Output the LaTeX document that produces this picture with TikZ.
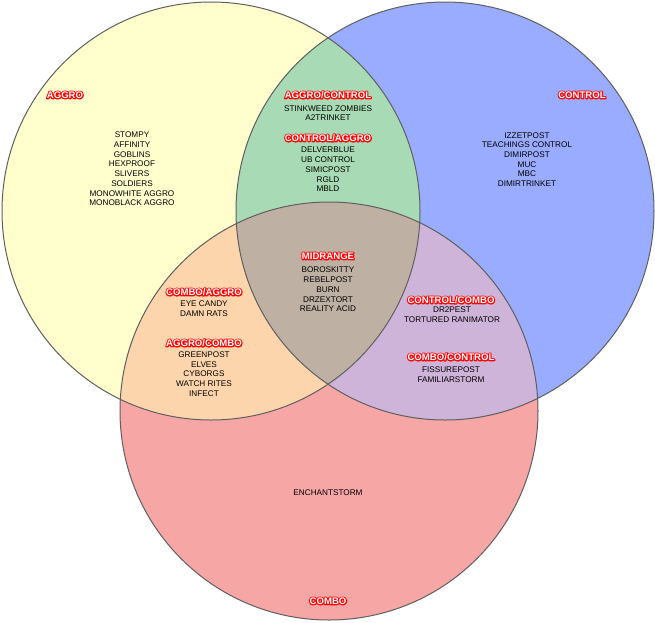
\documentclass[tikz,border=0pt]{standalone}
\usepackage{fontspec}
\setmainfont{Liberation Sans}
\definecolor{cyel}{RGB}{255,254,204}
\definecolor{cblu}{RGB}{153,172,255}
\definecolor{cred}{RGB}{247,166,166}
\definecolor{cgrn}{RGB}{168,218,181}
\definecolor{corg}{RGB}{253,213,172}
\definecolor{cpur}{RGB}{205,180,216}
\definecolor{cmid}{RGB}{191,176,164}
\definecolor{cline}{RGB}{95,95,95}
\newcommand\ttl[1]{\rlap{\color{red}\special{pdf:literal direct 1 Tr 2.2 w 1 j}#1\special{pdf:literal direct 0 Tr}}{\color{white}#1}}
\tikzset{
  listtxt/.style={inner sep=0pt, align=center, font=\fontsize{8.2}{9.7}\selectfont},
  ttltxt/.style={inner sep=0pt, font=\fontsize{9.6}{10}\selectfont\bfseries},
  ring/.style={draw=cline, line width=1pt}
}
\begin{document}
\begin{tikzpicture}[x=1pt,y=-1pt]
\useasboundingbox (0,0) rectangle (655,622);
\fill[white] (0,0) rectangle (655,622);
\def\circY{(211,211) circle[radius=209pt]}
\def\circB{(445,211) circle[radius=209pt]}
\def\circR{(329,411) circle[radius=209pt]}
\fill[cyel] \circY;
\fill[cblu] \circB;
\fill[cred] \circR;
\begin{scope}\clip \circY; \fill[cgrn] \circB; \end{scope}
\begin{scope}\clip \circY; \fill[corg] \circR; \end{scope}
\begin{scope}\clip \circB; \fill[cpur] \circR; \end{scope}
\begin{scope}\clip \circY; \clip \circB; \fill[cmid] \circR; \end{scope}
\draw[ring] \circY;
\draw[ring] \circB;
\draw[ring] \circR;

\node[ttltxt] (tA) at (65,95) {\ttl{AGGRO}};
\node[ttltxt] (tC) at (582,95) {\ttl{CONTROL}};
\node[ttltxt] (tB) at (328,601) {\ttl{COMBO}};
\node[ttltxt] (tAC) at (328,95) {\ttl{AGGRO/CONTROL}};
\node[ttltxt] (tCA) at (328,138) {\ttl{CONTROL/AGGRO}};
\node[ttltxt] (tM) at (328,256) {\ttl{MIDRANGE}};
\node[ttltxt] (tBA) at (204,292) {\ttl{COMBO/AGGRO}};
\node[ttltxt] (tAB) at (204,343) {\ttl{AGGRO/COMBO}};
\node[ttltxt] (tCB) at (451,300) {\ttl{CONTROL/COMBO}};
\node[ttltxt] (tBC) at (451,357) {\ttl{COMBO/CONTROL}};

\node[listtxt] (lA) at (132,169) {STOMPY\\AFFINITY\\GOBLINS\\HEXPROOF\\SLIVERS\\SOLDIERS\\MONOWHITE AGGRO\\MONOBLACK AGGRO};
\node[listtxt] (lAC) at (328,113) {STINKWEED ZOMBIES\\A2TRINKET};
\node[listtxt] (lCA) at (328,169.5) {DELVERBLUE\\UB CONTROL\\SIMICPOST\\RGLD\\MBLD};
\node[listtxt] (lC) at (527,159.5) {IZZETPOST\\TEACHINGS CONTROL\\DIMIRPOST\\MUC\\MBC\\DIMIRTRINKET};
\node[listtxt] (lM) at (328,289.5) {BOROSKITTY\\REBELPOST\\BURN\\DRZEXTORT\\REALITY ACID};
\node[listtxt] (lBA) at (204,308.5) {EYE CANDY\\DAMN RATS};
\node[listtxt] (lAB) at (204,374) {GREENPOST\\ELVES\\CYBORGS\\WATCH RITES\\INFECT};
\node[listtxt] (lCB) at (452,315) {DR2PEST\\TORTURED RANIMATOR};
\node[listtxt] (lBC) at (451,375) {FISSUREPOST\\FAMILIARSTORM};
\node[listtxt] (lB) at (328,493) {ENCHANTSTORM};
\end{tikzpicture}
\end{document}
